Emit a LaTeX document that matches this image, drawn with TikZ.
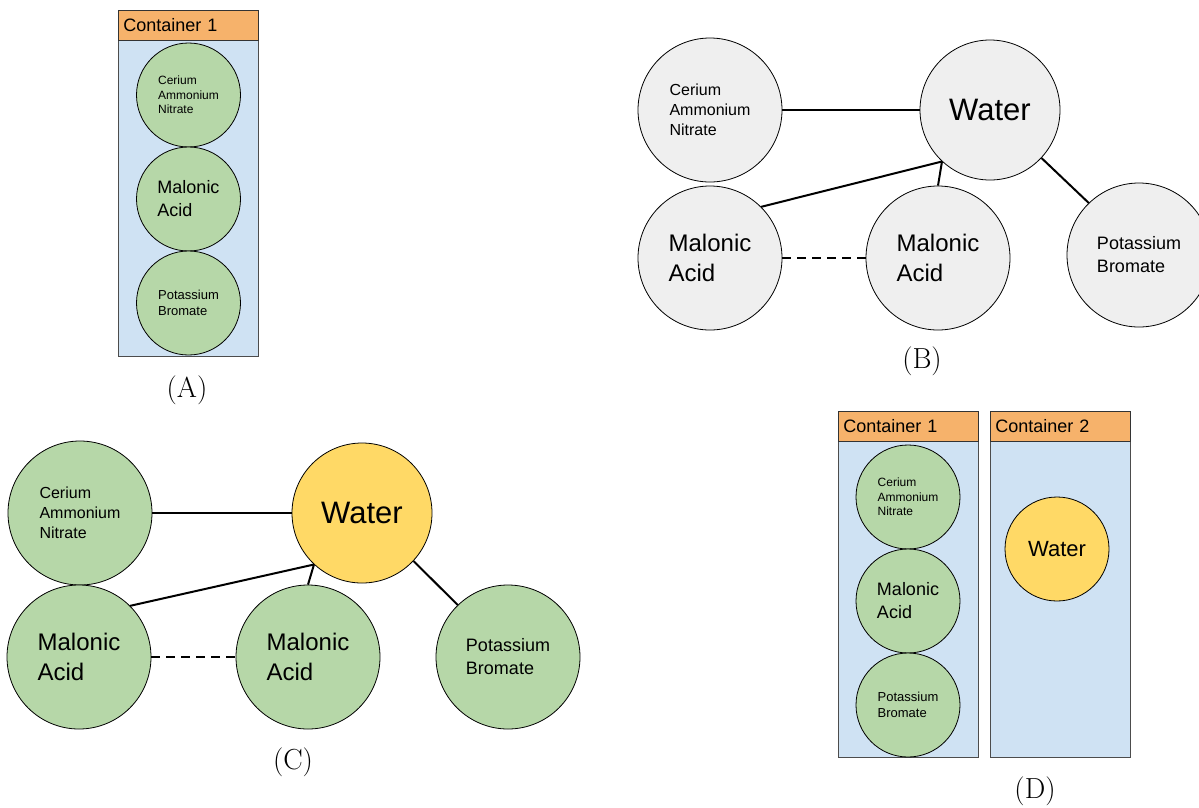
\documentclass[tikz,border=0pt]{standalone}
\usepackage{fontspec}
\setsansfont{Liberation Sans}
\usepackage[usenames,dvipsnames]{xcolor}
\usepackage{tikz}

\definecolor{boxblue}{HTML}{CFE2F3}
\definecolor{hdorange}{HTML}{F6B26B}
\definecolor{chemgreen}{HTML}{B6D7A8}
\definecolor{watyellow}{HTML}{FFD966}
\definecolor{chemgrey}{HTML}{EFEFEF}

\begin{document}
\begin{tikzpicture}[
		x=1pt, y=-1pt,
		chem/.style={circle,draw,line width=0.8,inner sep=0pt,align=left},
		big/.style={chem,minimum size=144},
		small/.style={chem,minimum size=104},
		szxs/.style={font=\sffamily\fontsize{12}{14.5}\selectfont},
		szs/.style={font=\sffamily\fontsize{13}{15.5}\selectfont},
		szm/.style={font=\sffamily\fontsize{18}{23}\selectfont},
		szb/.style={font=\sffamily\fontsize{16}{20}\selectfont},
		szpb/.style={font=\sffamily\fontsize{18}{23}\selectfont},
		szl/.style={font=\sffamily\fontsize{24}{30}\selectfont},
		szw/.style={font=\sffamily\fontsize{31}{36}\selectfont},
		szwd/.style={font=\sffamily\fontsize{22}{26}\selectfont},
		header/.style={draw=black!80,line width=0.8,fill=hdorange,anchor=north west,
			text width=130,inner xsep=5,inner ysep=0,minimum height=30,
			font=\sffamily\fontsize{18}{22}\selectfont},
		body/.style={draw=black!70,line width=0.8,fill=boxblue,anchor=north west,
			minimum width=140,minimum height=316,inner sep=0},
		conn/.style={line width=2},
		lbl/.style={font=\fontsize{29}{32}\selectfont}]

		\useasboundingbox (0,0) rectangle (1199,807);

		% (A)
		\node[body] (bdA) at (118,40) {};
		\node[header] (hdA) at (118,10) {Container 1};
		\node[small,szxs,fill=chemgreen] (cerA) at (188.5,95) {Cerium\\Ammonium\\Nitrate};
		\node[small,szm,fill=chemgreen] (malA) at (188.5,199) {Malonic\\Acid};
		\node[small,szs,fill=chemgreen] (potA) at (188.5,303) {Potassium\\Bromate};
		\node[lbl] (labA) at (187,390) {(A)};

		% (B)
		\node[big,szb,fill=chemgrey] (cerB) at (710,110) {Cerium\\Ammonium\\Nitrate};
		\node[chem,minimum size=140,szw,fill=chemgrey] (watB) at (990,110) {Water};
		\node[big,szl,fill=chemgrey] (malB1) at (710,258) {Malonic\\Acid};
		\node[big,szl,fill=chemgrey] (malB2) at (938,258) {Malonic\\Acid};
		\node[big,szpb,fill=chemgrey] (potB) at (1139,255) {Potassium\\Bromate};
		\node[lbl] (labB) at (922,361) {(B)};

		\draw[conn] (cerB) -- (watB);
		\draw[conn] (malB1.45) -- (watB.-133);
		\draw[conn] (malB2.90) -- (watB.-133);
		\draw[conn] (watB.-43) -- (potB.134);
		\draw[conn,dashed,dash pattern=on 9pt off 6pt] (malB1) -- (malB2);

		% (C)
		\node[big,szb,fill=chemgreen] (cerC) at (80,513) {Cerium\\Ammonium\\Nitrate};
		\node[chem,minimum size=140,szw,fill=watyellow] (watC) at (362,513) {Water};
		\node[big,szl,fill=chemgreen] (malC1) at (79,657) {Malonic\\Acid};
		\node[big,szl,fill=chemgreen] (malC2) at (308,657) {Malonic\\Acid};
		\node[big,szpb,fill=chemgreen] (potC) at (508,657) {Potassium\\Bromate};
		\node[lbl] (labC) at (293,762) {(C)};

		\draw[conn] (cerC) -- (watC);
		\draw[conn] (malC1.45) -- (watC.-133);
		\draw[conn] (malC2.90) -- (watC.-133);
		\draw[conn] (watC.-43) -- (potC.134);
		\draw[conn,dashed,dash pattern=on 9pt off 6pt] (malC1) -- (malC2);

		% (D)
		\node[body] (bdD1) at (838,441) {};
		\node[header] (hdD1) at (838,411) {Container 1};
		\node[body] (bdD2) at (990,441) {};
		\node[header] (hdD2) at (990,411) {Container 2};
		\node[small,szxs,fill=chemgreen] (cerD) at (908,497) {Cerium\\Ammonium\\Nitrate};
		\node[small,szm,fill=chemgreen] (malD) at (908,601) {Malonic\\Acid};
		\node[small,szs,fill=chemgreen] (potD) at (908,705) {Potassium\\Bromate};
		\node[small,szwd,fill=watyellow] (watD) at (1057,549) {Water};
		\node[lbl] (labD) at (1035,791) {(D)};

\end{tikzpicture}
\end{document}
